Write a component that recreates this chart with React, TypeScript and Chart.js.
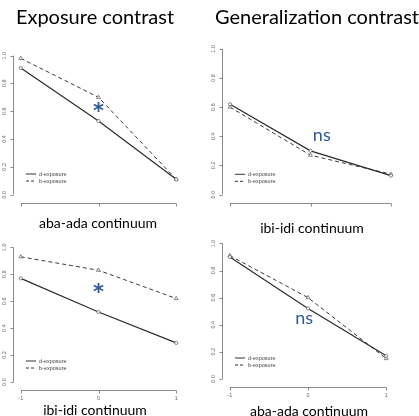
import React, { useEffect, useRef } from "react";
import { Chart, registerables } from "chart.js";

Chart.register(...registerables);

// ---------- data ----------
const xValues = [-1, 0, 1];
const xTickLabels = ["-1", "0", "1"];
const yTickValues = [0, 0.2, 0.4, 0.6, 0.8, 1.0];
const yTickLabels = ["0.0", "0.2", "0.4", "0.6", "0.8", "1.0"];
const seriesNames = ["d-exposure", "b-exposure"];

const columnTitles = ["Exposure contrast", "Generalization contrast"];
const panelXTitles = ["aba-ada continuum", "ibi-idi continuum", "ibi-idi continuum", "aba-ada continuum"];
const significanceLabels = ["*", "ns", "*", "ns"];

const exposureAbaD = [0.91, 0.53, 0.11];
const exposureAbaB = [0.98, 0.7, 0.11];
const generalizationIbiD = [0.62, 0.3, 0.13];
const generalizationIbiB = [0.6, 0.27, 0.14];
const exposureIbiD = [0.77, 0.52, 0.29];
const exposureIbiB = [0.93, 0.83, 0.62];
const generalizationAbaD = [0.9, 0.52, 0.17];
const generalizationAbaB = [0.91, 0.6, 0.15];

// ---------- layout ----------
type Panel = {
  left: number;
  top: number;
  w: number;
  h: number;
  pad: { left: number; right: number; top: number; bottom: number };
  d: number[];
  b: number[];
  sig: string;
  sigAt: { x: number; y: number };
  sigFont: string;
};

const starFont = 'bold 21px "DejaVu Sans", sans-serif';
const nsFont = '18px Lato, "Open Sans", sans-serif';

const panels: Panel[] = [
  {
    left: 0, top: 0, w: 209, h: 208,
    pad: { left: 13, right: 25, top: 50, bottom: 5 },
    d: exposureAbaD, b: exposureAbaB, sig: significanceLabels[0],
    sigAt: { x: 0, y: 0.63 }, sigFont: starFont,
  },
  {
    left: 209, top: 0, w: 210, h: 208,
    pad: { left: 13, right: 20, top: 43, bottom: 4 },
    d: generalizationIbiD, b: generalizationIbiB, sig: significanceLabels[1],
    sigAt: { x: 0.14, y: 0.4 }, sigFont: nsFont,
  },
  {
    left: 0, top: 208, w: 209, h: 208,
    pad: { left: 13, right: 25, top: 34, bottom: 26 },
    d: exposureIbiD, b: exposureIbiB, sig: significanceLabels[2],
    sigAt: { x: 0, y: 0.7 }, sigFont: starFont,
  },
  {
    left: 209, top: 208, w: 210, h: 208,
    pad: { left: 13, right: 25, top: 30, bottom: 29 },
    d: generalizationAbaD, b: generalizationAbaB, sig: significanceLabels[3],
    sigAt: { x: -0.05, y: 0.44 }, sigFont: nsFont,
  },
];

const rAxesPlugin = {
  id: "rAxes",
  afterDraw(chart: any, _args: any, opts: any) {
    const { ctx, chartArea, scales } = chart;
    const xs = scales.x;
    const ys = scales.y;
    ctx.save();
    // axis lines + ticks
    ctx.strokeStyle = "#8c8c8c";
    ctx.lineWidth = 1;
    const yb = Math.round(chartArea.bottom) + 0.5;
    const xl = Math.round(chartArea.left) + 0.5;
    ctx.beginPath();
    ctx.moveTo(xs.getPixelForValue(xValues[0]), yb);
    ctx.lineTo(xs.getPixelForValue(xValues[xValues.length - 1]), yb);
    xValues.forEach((v) => {
      const px = Math.round(xs.getPixelForValue(v)) + 0.5;
      ctx.moveTo(px, yb);
      ctx.lineTo(px, yb + 3);
    });
    ctx.moveTo(xl, ys.getPixelForValue(yTickValues[0]));
    ctx.lineTo(xl, ys.getPixelForValue(yTickValues[yTickValues.length - 1]));
    yTickValues.forEach((v) => {
      const py = Math.round(ys.getPixelForValue(v)) + 0.5;
      ctx.moveTo(xl, py);
      ctx.lineTo(xl - 3, py);
    });
    ctx.stroke();

    // tick labels
    ctx.fillStyle = "#666";
    ctx.font = '5.5px "Liberation Sans", Arial, sans-serif';
    ctx.textAlign = "center";
    ctx.textBaseline = "top";
    xValues.forEach((v, i) => {
      ctx.fillText(xTickLabels[i], xs.getPixelForValue(v), yb + 5);
    });
    yTickValues.forEach((v, i) => {
      ctx.save();
      ctx.translate(xl - 6, ys.getPixelForValue(v));
      ctx.rotate(-Math.PI / 2);
      ctx.textBaseline = "bottom";
      ctx.fillText(yTickLabels[i], 0, 0);
      ctx.restore();
    });

    // legend (bottom-left)
    const lx = chartArea.left + 13;
    const ly1 = chartArea.bottom - 29;
    const ly2 = chartArea.bottom - 22;
    ctx.strokeStyle = "#333";
    ctx.lineWidth = 1;
    ctx.beginPath();
    ctx.moveTo(lx, ly1);
    ctx.lineTo(lx + 10, ly1);
    ctx.stroke();
    ctx.setLineDash([3, 2]);
    ctx.beginPath();
    ctx.moveTo(lx, ly2);
    ctx.lineTo(lx + 10, ly2);
    ctx.stroke();
    ctx.setLineDash([]);
    ctx.fillStyle = "#444";
    ctx.textAlign = "left";
    ctx.textBaseline = "middle";
    ctx.font = '5.5px "Liberation Sans", Arial, sans-serif';
    ctx.fillText(seriesNames[0], lx + 13, ly1);
    ctx.fillText(seriesNames[1], lx + 13, ly2);

    // significance marker
    if (opts && opts.text) {
      ctx.font = opts.font;
      ctx.fillStyle = "#2f5b95";
      ctx.textAlign = "center";
      ctx.textBaseline = "alphabetic";
      const m = ctx.measureText(opts.text);
      const cx = xs.getPixelForValue(opts.x);
      const cy = ys.getPixelForValue(opts.y);
      const asc = m.actualBoundingBoxAscent;
      const desc = m.actualBoundingBoxDescent;
      ctx.fillText(opts.text, cx, cy + (asc - desc) / 2);
    }
    ctx.restore();
  },
};

function PanelChart({ p }: { p: Panel }) {
  const ref = useRef<HTMLCanvasElement | null>(null);
  useEffect(() => {
    if (!ref.current) return;
    const chart = new Chart(ref.current, {
      type: "line",
      data: {
        datasets: [
          {
            label: seriesNames[0],
            data: xValues.map((x, i) => ({ x, y: p.d[i] })),
            borderColor: "#2b2b2b",
            borderWidth: 1.2,
            pointStyle: "circle",
            pointRadius: 1.6,
            pointBorderWidth: 0.7,
            pointBackgroundColor: "#ffffff",
            pointBorderColor: "#555",
            tension: 0,
          },
          {
            label: seriesNames[1],
            data: xValues.map((x, i) => ({ x, y: p.b[i] })),
            borderColor: "#3a3a3a",
            borderWidth: 1,
            borderDash: [4, 3],
            pointStyle: "triangle",
            pointRadius: 2.2,
            pointBorderWidth: 0.7,
            pointBackgroundColor: "#ffffff",
            pointBorderColor: "#555",
            tension: 0,
          },
        ],
      },
      options: {
        animation: false,
        responsive: false,
        maintainAspectRatio: false,
        events: [],
        layout: { padding: p.pad },
        plugins: {
          legend: { display: false },
          tooltip: { enabled: false },
          rAxes: { text: p.sig, x: p.sigAt.x, y: p.sigAt.y, font: p.sigFont },
        } as any,
        scales: {
          x: { type: "linear", min: -1.1, max: 1.1, display: false },
          y: { type: "linear", min: -0.06, max: 1.04, display: false },
        },
      },
      plugins: [rAxesPlugin],
    });
    return () => chart.destroy();
  }, [p]);
  return (
    <canvas
      ref={ref}
      width={p.w}
      height={p.h}
      style={{ position: "absolute", left: p.left, top: p.top, width: p.w, height: p.h, display: "block" }}
    />
  );
}

const titleStyle = (cx: number, top: number, size: number): React.CSSProperties => ({
  position: "absolute",
  left: cx,
  top,
  transform: "translateX(-50%)",
  whiteSpace: "nowrap",
  fontFamily: 'Lato, "Open Sans", sans-serif',
  fontSize: size,
  lineHeight: `${size}px`,
  color: "#000",
});

export default function App() {
  return (
    <div style={{ position: "absolute", left: 0, top: 0, width: 419, height: 416, background: "#fff", overflow: "hidden" }}>
      {panels.map((p, i) => (
        <PanelChart key={i} p={p} />
      ))}
      <div style={titleStyle(95, 6, 20)}>{columnTitles[0]}</div>
      <div style={titleStyle(317, 6, 20)}>{columnTitles[1]}</div>
      <div style={titleStyle(98, 216, 14)}>{panelXTitles[0]}</div>
      <div style={titleStyle(312, 221, 14)}>{panelXTitles[1]}</div>
      <div style={titleStyle(95, 403, 14)}>{panelXTitles[2]}</div>
      <div style={titleStyle(309, 404, 14)}>{panelXTitles[3]}</div>
    </div>
  );
}
